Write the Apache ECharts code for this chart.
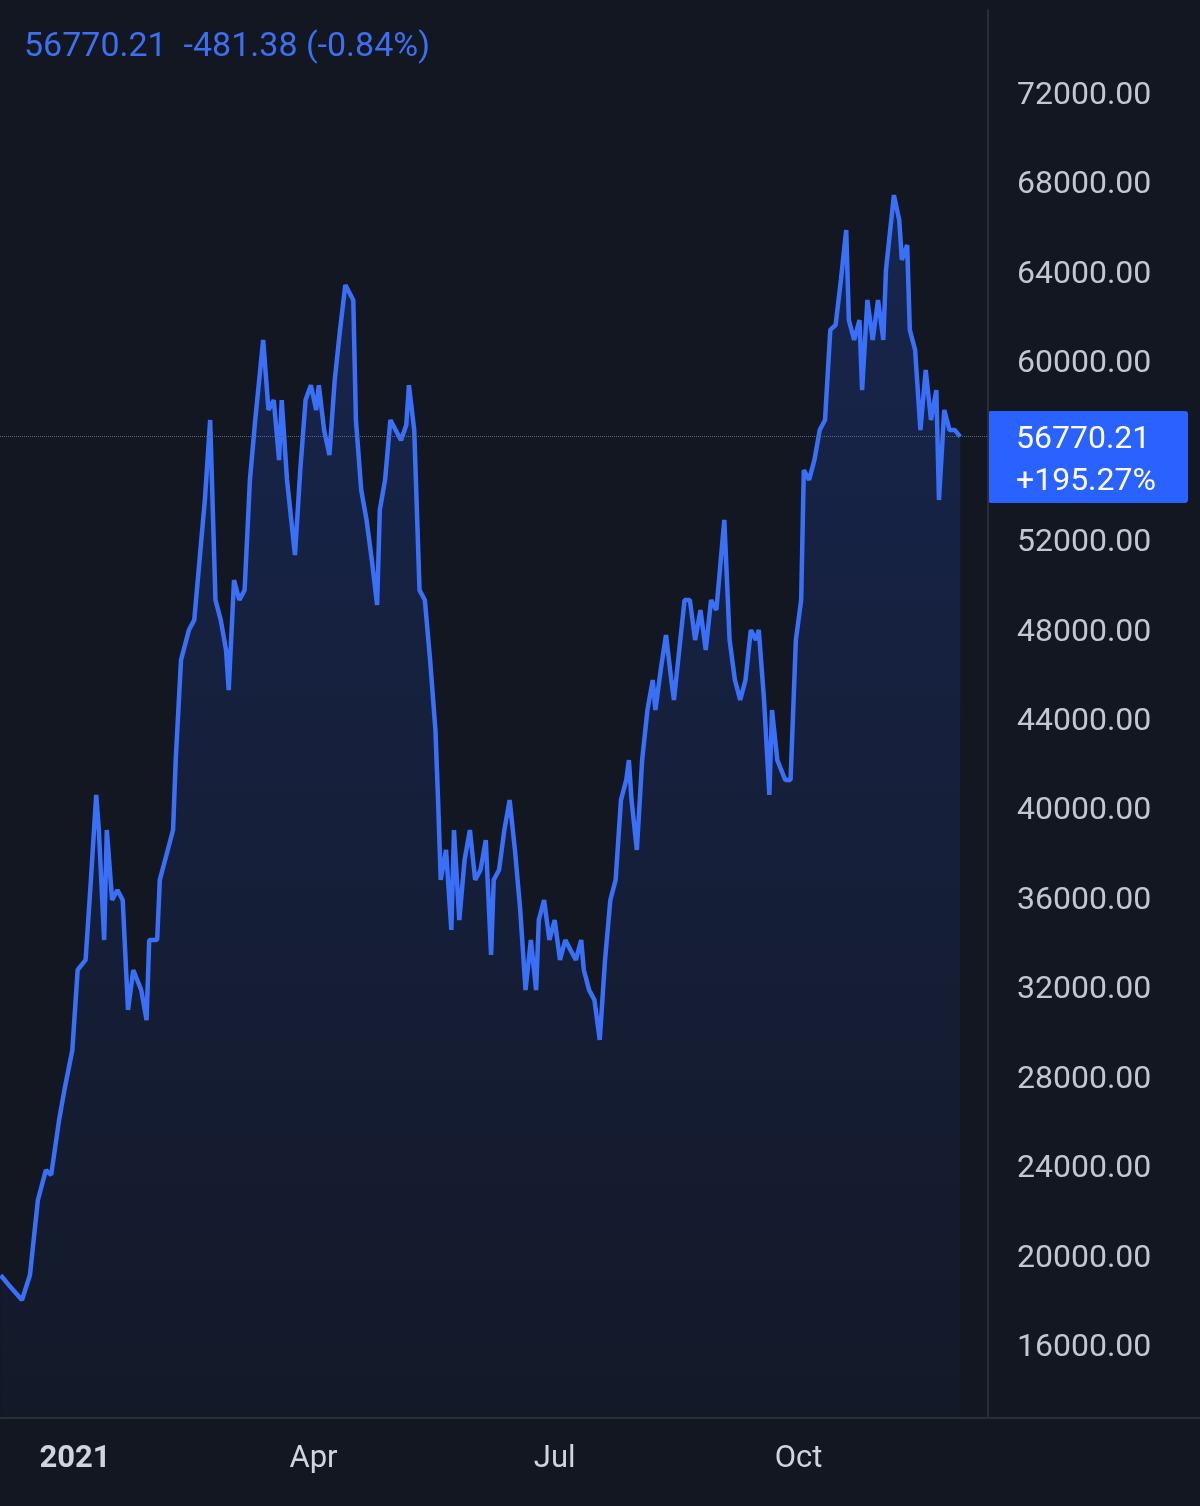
<!DOCTYPE html>
<html><head><meta charset="utf-8">
<script src="https://cdn.jsdelivr.net/npm/echarts@6/dist/echarts.min.js"></script>
<style>html,body{margin:0;padding:0;background:#131722;}#c{width:1200px;height:1506px;}</style>
</head><body><div id="c"></div>
<script>
// days since 2021-01-01
var days = [-28,-25,-20,-17,-14,-11,-9,-6,-4,-1,1,4,6,8,9,11,12,14,16,18,20,22,25,27,28,31,32,34,37,38,40,42,43,45,47,49,51,53,55,57,58,60,62,64,66,68,71,73,75,77,78,80,83,85,87,89,91,92,94,96,98,100,102,105,106,108,110,112,114,115,117,119,121,123,125,126,128,130,132,134,136,137,138,140,142,143,145,147,149,151,153,155,157,158,160,162,164,166,168,170,172,174,175,177,179,181,183,185,187,189,191,192,194,196,198,200,202,204,206,208,209,210,212,214,216,218,219,221,223,225,226,228,230,232,234,236,238,240,242,243,245,247,249,251,253,255,257,258,260,262,263,265,268,270,272,274,275,277,279,281,283,285,287,289,291,292,294,296,297,299,301,303,305,306,309,311,312,314,315,317,319,321,323,325,326,328,330,332,334];
var prices = [19265,18820,18150,19265,22620,23960,23740,26200,27540,29330,32910,33360,36940,40740,39170,34250,39170,36040,36490,36040,31120,32910,32010,30670,34250,34250,36940,37830,39170,42300,46770,47670,48120,48560,51250,53930,57510,49460,48560,47220,45430,50350,49460,49900,54830,57510,61090,57960,58400,55720,58400,54830,51470,55270,58400,59070,57960,59070,57060,55940,59300,61540,63550,62880,57510,54380,53040,51250,49240,53480,54830,57510,57060,56610,57290,59070,57060,49900,49460,46770,43640,40510,36940,38280,34700,39170,35140,37830,39170,36940,37380,38720,33580,36940,37380,39170,40510,38280,35590,32010,34250,32010,35140,36040,34250,35140,33360,34250,33800,33360,34250,32910,32010,31570,29780,33360,36040,36940,40510,41410,42300,40510,38280,42300,44540,45880,44540,46330,47890,45880,44990,47220,49460,49460,47670,49010,47220,49460,49010,50350,53040,47670,45880,44990,45880,48120,47670,48120,44990,40740,44540,42300,41410,41410,47670,49460,55270,54830,55720,57060,57510,61540,61760,63770,66010,61980,61090,61980,58850,62880,61090,62880,61090,64220,67570,66460,64670,65340,61540,60640,57060,59750,57510,58850,53930,57960,57060,57060,56770];
var yTicks = [16000,20000,24000,28000,32000,36000,40000,44000,48000,52000,60000,64000,68000,72000];
var xTicks = [0,90,181,273];
var xNames = {0:'{b|2021}',90:'Apr',181:'Jul',273:'Oct'};
var lastPrice = 56770.21, change = '-481.38 (-0.84%)', pct = '+195.27%';

var data = days.map(function (d, i) { return [d, prices[i]]; });
var chart = echarts.init(document.getElementById('c'));
chart.setOption({
    backgroundColor: '#131722',
    animation: false,
    grid: {left: 0, right: 212, top: 10, bottom: 88},
    xAxis: {
        type: 'value', min: -28.3, max: 344.5,
        axisLine: {show: true, onZero: false, lineStyle: {color: '#2a2e39', width: 2}},
        axisTick: {show: false},
        splitLine: {show: false},
        axisLabel: {
            customValues: xTicks, color: '#d1d4dc', fontSize: 31, margin: 26,
            fontFamily: 'Roboto',
            formatter: function (v) { return xNames[v]; },
            rich: {b: {fontWeight: 'bold', fontSize: 31, color: '#d1d4dc', fontFamily: 'Roboto'}}
        }
    },
    yAxis: {
        type: 'value', position: 'right', min: 12870, max: 75850,
        axisLine: {show: true, onZero: false, lineStyle: {color: '#2a2e39', width: 2}},
        axisTick: {show: false},
        splitLine: {show: false},
        axisLabel: {
            customValues: yTicks, color: '#c4c7cf', fontSize: 32, margin: 29,
            fontFamily: 'Roboto',
            formatter: function (v) { return v.toFixed(2); }
        }
    },
    series: [{
        type: 'line', data: data, symbol: 'none',
        lineStyle: {color: '#3a6ff7', width: 4.5},
        areaStyle: {color: new echarts.graphic.LinearGradient(0, 0, 0, 1, [
            {offset: 0, color: 'rgba(41,98,255,0.28)'},
            {offset: 1, color: 'rgba(41,98,255,0.04)'}
        ])},
        markLine: {
            silent: true, symbol: 'none',
            lineStyle: {color: '#5d6678', type: 'dotted', width: 1},
            label: {show: false},
            data: [{yAxis: lastPrice}]
        }
    }],
    graphic: [
        {type: 'text', left: 24, top: 30, style: {text: lastPrice.toFixed(2) + '  ' + change, fill: '#3d6ff0', font: '34px Roboto'}},
        {type: 'line', shape: {x1: 988, y1: 1418, x2: 1200, y2: 1418}, style: {stroke: '#2a2e39', lineWidth: 2}},
        {type: 'rect', shape: {x: 988, y: 411, width: 200, height: 92, r: 3}, style: {fill: '#2962ff'}},
        {type: 'text', left: 1016, top: 419, style: {text: lastPrice.toFixed(2) + '\n' + pct, fill: '#ffffff', font: '32px Roboto', lineHeight: 42}}
    ]
});
</script>
</body></html>
